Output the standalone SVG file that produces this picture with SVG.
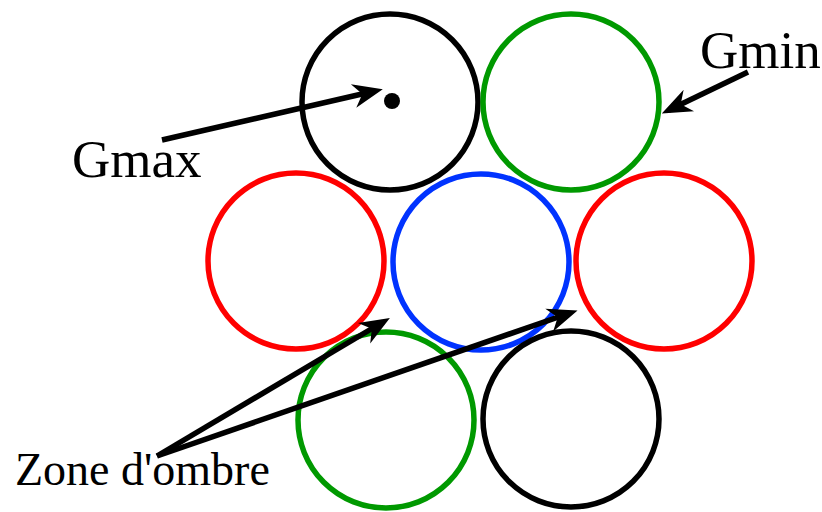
<svg xmlns="http://www.w3.org/2000/svg" width="822" height="512" viewBox="0 0 822 512">
<style>
.c{fill:none;stroke-width:5.5}
.k{stroke:#000}.g{stroke:#009900}.r{stroke:#ff0000}.b{stroke:#0033ff}
.a{stroke:#000;stroke-width:5.5;fill:none}
.t{font-family:'Liberation Serif','Times New Roman',serif;fill:#000}
</style>
<defs>
<marker id="ah" markerUnits="userSpaceOnUse" markerWidth="44" markerHeight="30" viewBox="-34 -15 44 30" refX="-8" refY="0" orient="auto">
<path d="M0,0 L-30,-12 L-21,0 L-30,12 Z" fill="#000"/>
</marker>
</defs>
<rect width="822" height="512" fill="#fff"/>
<g id="c1"><circle class="c k" cx="390" cy="102" r="88"/><circle cx="392" cy="101" r="8" fill="#000"/></g>
<g id="c2"><circle class="c g" cx="571" cy="102" r="88"/></g>
<g id="c3"><circle class="c r" cx="296" cy="261" r="88"/></g>
<g id="c4"><circle class="c b" cx="481" cy="262" r="88"/></g>
<g id="c5"><circle class="c r" cx="664" cy="261" r="88"/></g>
<g id="c6"><circle class="c g" cx="386" cy="420" r="88"/></g>
<g id="c7"><circle class="c k" cx="571" cy="419" r="88"/></g>
<g id="labels">
<text class="t" x="72" y="177" font-size="53">Gmax</text>
<text class="t" x="700" y="68" font-size="53">Gmin</text>
<text class="t" x="15" y="485" font-size="46">Zone d'ombre</text>
</g>
<g id="connectors">
<line class="a" x1="162" y1="140" x2="375" y2="91" marker-end="url(#ah)"/>
<line class="a" x1="748" y1="72" x2="669" y2="110" marker-end="url(#ah)"/>
<line class="a" x1="157" y1="456" x2="383" y2="322" marker-end="url(#ah)"/>
<line class="a" x1="157" y1="456" x2="570" y2="313" marker-end="url(#ah)"/>
</g>
</svg>
